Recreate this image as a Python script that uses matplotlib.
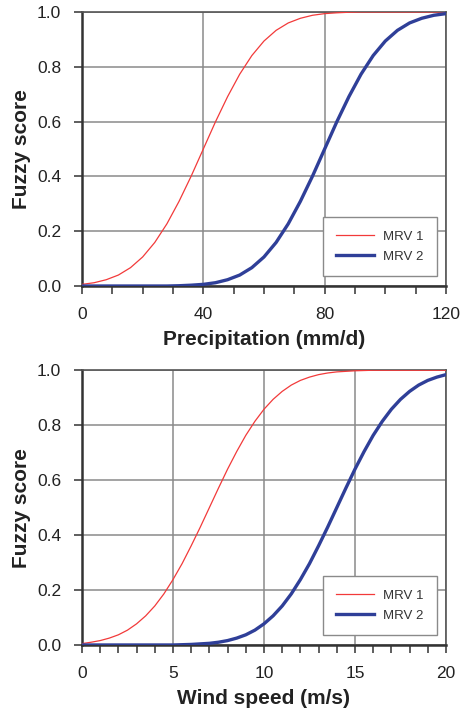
import numpy as np
import matplotlib
matplotlib.use("Agg")
import matplotlib.pyplot as plt
from matplotlib.ticker import MultipleLocator

plt.rcParams["font.family"] = ["Liberation Sans", "DejaVu Sans"]

# Precipitation panel (values every 4 mm/d)
precip = np.arange(0, 121, 4)
precip_mrv1 = [0.006, 0.012, 0.023, 0.040, 0.067, 0.106, 0.159, 0.227, 0.309, 0.401,
               0.500, 0.599, 0.691, 0.773, 0.841, 0.894, 0.933, 0.960, 0.977, 0.988,
               0.994, 0.997, 0.999, 1.000, 1.000, 1.000, 1.000, 1.000, 1.000, 1.000,
               1.000]
precip_mrv2 = [0.000, 0.000, 0.000, 0.000, 0.000, 0.000, 0.000, 0.000, 0.001, 0.003,
               0.006, 0.012, 0.023, 0.040, 0.067, 0.106, 0.159, 0.227, 0.309, 0.401,
               0.500, 0.599, 0.691, 0.773, 0.841, 0.894, 0.933, 0.960, 0.977, 0.988,
               0.994]

# Wind speed panel (values read every 0.5 m/s)
wind = np.arange(0, 20.01, 0.5)
wind_mrv1 = [0.005, 0.010, 0.016, 0.025, 0.037, 0.054, 0.077, 0.106, 0.142, 0.186,
             0.238, 0.296, 0.361, 0.429, 0.500, 0.571, 0.640, 0.704, 0.763, 0.814,
             0.858, 0.894, 0.923, 0.946, 0.963, 0.975, 0.984, 0.990, 0.994, 0.996,
             0.998, 0.999, 1.000, 1.000, 1.000, 1.000, 1.000, 1.000, 1.000, 1.000,
             1.000]
wind_mrv2 = [0.000, 0.000, 0.000, 0.000, 0.000, 0.000, 0.000, 0.000, 0.000, 0.000,
             0.000, 0.001, 0.002, 0.004, 0.006, 0.010, 0.016, 0.025, 0.037, 0.054,
             0.077, 0.106, 0.142, 0.186, 0.238, 0.296, 0.361, 0.429, 0.500, 0.571,
             0.640, 0.704, 0.763, 0.814, 0.858, 0.894, 0.923, 0.946, 0.963, 0.975,
             0.984]

panels = [
    (precip, precip_mrv1, precip_mrv2, "Precipitation (mm/d)", 120, 40, 10),
    (wind, wind_mrv1, wind_mrv2, "Wind speed (m/s)", 20, 5, 1),
]

red = "#f23a3a"
blue = "#2f3f98"

fig = plt.figure(figsize=(4.65, 7.09), dpi=100)
rects = [[0.1763, 0.5966, 0.7828, 0.3865], [0.1763, 0.0903, 0.7828, 0.3875]]

for rect, (x, y1, y2, xlab, xmax, major, minor) in zip(rects, panels):
    ax = fig.add_axes(rect)
    ax.plot(x, y1, color=red, lw=0.9, label="MRV 1", zorder=3)
    ax.plot(x, y2, color=blue, lw=2.4, label="MRV 2", zorder=3)
    ax.set_xlim(0, xmax)
    ax.set_ylim(0, 1)
    ax.xaxis.set_major_locator(MultipleLocator(major))
    ax.xaxis.set_minor_locator(MultipleLocator(minor))
    ax.yaxis.set_major_locator(MultipleLocator(0.2))
    ax.yaxis.set_major_formatter(matplotlib.ticker.FormatStrFormatter("%.1f"))
    ax.grid(True, which="major", color="#8a8a8a", lw=1.1)
    ax.set_axisbelow(True)
    ax.tick_params(which="both", direction="out", length=6, width=1.1, color="#333333")
    ax.tick_params(axis="x", which="major", pad=9, labelsize=12.5, labelcolor="#222222")
    ax.tick_params(axis="y", pad=9, labelsize=12.5, labelcolor="#222222")
    for s in ["left", "bottom"]:
        ax.spines[s].set_color("#333333")
        ax.spines[s].set_linewidth(1.8)
    for s in ["top", "right"]:
        ax.spines[s].set_color("#555555")
        ax.spines[s].set_linewidth(1.2)
    ax.set_xlabel(xlab, fontsize=15, fontweight="bold", color="#222222", labelpad=6)
    ax.set_ylabel("Fuzzy score", fontsize=15, fontweight="bold", color="#222222", labelpad=4)
    leg = ax.legend(loc="lower right", bbox_to_anchor=(0.975, 0.036), borderaxespad=0,
                    fontsize=9.5, fancybox=False, framealpha=1, edgecolor="#8a8a8a",
                    handlelength=2.9, borderpad=1.0,
                    labelspacing=0.6, handletextpad=0.68)
    leg.get_frame().set_linewidth(1.0)
    for t in leg.get_texts():
        t.set_color("#333333")

fig.savefig("out.png", dpi=100)
